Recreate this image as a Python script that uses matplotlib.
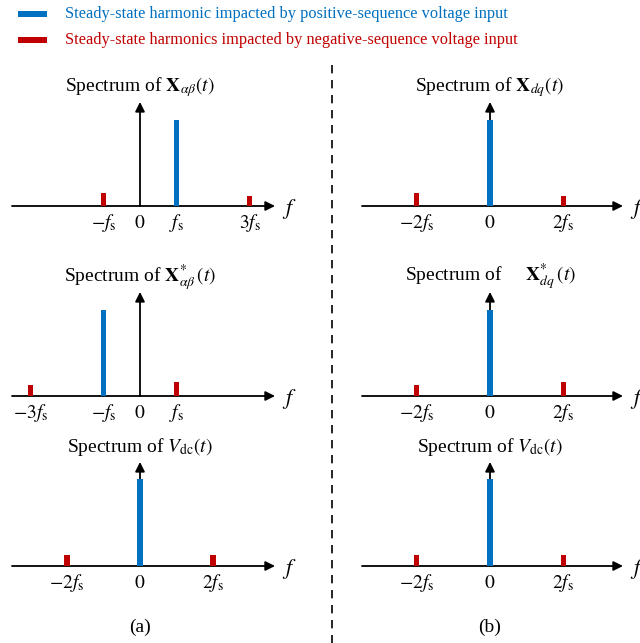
import matplotlib.pyplot as plt
from matplotlib.lines import Line2D
from matplotlib.patches import Rectangle

plt.rcParams['font.family'] = ['Liberation Serif', 'DejaVu Serif']
plt.rcParams['mathtext.fontset'] = 'stix'

BLUE = '#0070C0'
RED = '#C00000'

# spectra (frequency in multiples of fs, amplitude normalised to main harmonic)
a1_pos_f, a1_pos_amp = [1], [1.0]
a1_neg_f, a1_neg_amp = [-1, 3], [0.15, 0.12]
a2_pos_f, a2_pos_amp = [-1], [1.0]
a2_neg_f, a2_neg_amp = [-3, 1], [0.13, 0.16]
a3_pos_f, a3_pos_amp = [0], [1.01]
a3_neg_f, a3_neg_amp = [-2, 2], [0.13, 0.13]

b1_pos_f, b1_pos_amp = [0], [1.0]
b1_neg_f, b1_neg_amp = [-2, 2], [0.15, 0.12]
b2_pos_f, b2_pos_amp = [0], [1.0]
b2_neg_f, b2_neg_amp = [-2, 2], [0.13, 0.16]
b3_pos_f, b3_pos_amp = [0], [1.01]
b3_neg_f, b3_neg_amp = [-2, 2], [0.13, 0.13]

a1_ticks = [-1, 0, 1, 3]
a1_labels = [r'$-f_{\mathrm{s}}$', r'$0$', r'$f_{\mathrm{s}}$', r'$3f_{\mathrm{s}}$']
a2_ticks = [-3, -1, 0, 1]
a2_labels = [r'$-3f_{\mathrm{s}}$', r'$-f_{\mathrm{s}}$', r'$0$', r'$f_{\mathrm{s}}$']
dc_ticks = [-2, 0, 2]
dc_labels = [r'$-2f_{\mathrm{s}}$', r'$0$', r'$2f_{\mathrm{s}}$']

titles_a = [r'Spectrum of $\mathbf{X}_{\alpha\beta}(t)$',
            r'Spectrum of $\mathbf{X}^{*}_{\alpha\beta}\,(t)$',
            r'Spectrum of $V_{\mathrm{dc}}(t)$']
titles_b = [r'Spectrum of $\mathbf{X}_{dq}(t)$',
            r'Spectrum of     $\mathbf{X}^{*}_{dq}\,(t)$',
            r'Spectrum of $V_{\mathrm{dc}}(t)$']

legend_labels = ['Steady-state harmonic impacted by positive-sequence voltage input',
                 'Steady-state harmonics impacted by negative-sequence voltage input']

W, H = 640, 643
fig = plt.figure(figsize=(W / 100, H / 100), dpi=100)

baselines = [206, 396, 566]
PX_Y = 86.0  # pixels per unit amplitude


def make_ax(x0, x1, zero_px, px_unit, base):
    top, bot = base - 130, base + 40
    ax = fig.add_axes([x0 / W, 1 - bot / H, (x1 - x0) / W, (bot - top) / H])
    ax.set_xlim((x0 - zero_px) / px_unit, (x1 - zero_px) / px_unit)
    ax.set_ylim(-40 / PX_Y, 130 / PX_Y)
    ax.axis('off')
    return ax


def draw(ax, pos_f, pos_amp, neg_f, neg_amp, ticks, labels, title, xr):
    ax.annotate('', xy=(xr[1], 0), xytext=(xr[0], 0),
                arrowprops=dict(arrowstyle='-|>', color='black', lw=1.3,
                                mutation_scale=14, shrinkA=0, shrinkB=0))
    ax.annotate('', xy=(0, 1.21), xytext=(0, 0),
                arrowprops=dict(arrowstyle='-|>', color='black', lw=1.3,
                                mutation_scale=14, shrinkA=0, shrinkB=0))
    ax.bar(neg_f, neg_amp, width=0.15, color=RED, zorder=3)
    ax.bar(pos_f, pos_amp, width=0.15, color=BLUE, zorder=3)
    for t, lab in zip(ticks, labels):
        ax.text(t, -0.2, lab, ha='center', va='center', fontsize=14)
    ax.text(xr[1] + 0.4, -0.03, r'$f$', ha='center', va='center', fontsize=16)
    ax.text(0, 1.38, title, ha='center', va='center', fontsize=14)


pos_a = [(a1_pos_f, a1_pos_amp, a1_neg_f, a1_neg_amp, a1_ticks, a1_labels),
         (a2_pos_f, a2_pos_amp, a2_neg_f, a2_neg_amp, a2_ticks, a2_labels),
         (a3_pos_f, a3_pos_amp, a3_neg_f, a3_neg_amp, dc_ticks, dc_labels)]
pos_b = [(b1_pos_f, b1_pos_amp, b1_neg_f, b1_neg_amp, dc_ticks, dc_labels),
         (b2_pos_f, b2_pos_amp, b2_neg_f, b2_neg_amp, dc_ticks, dc_labels),
         (b3_pos_f, b3_pos_amp, b3_neg_f, b3_neg_amp, dc_ticks, dc_labels)]

for i, base in enumerate(baselines):
    ax = make_ax(0, 320, 140, 36.5, base)
    draw(ax, *pos_a[i], titles_a[i], ((12 - 140) / 36.5, (275 - 140) / 36.5))
    ax = make_ax(335, 640, 490, 36.7, base)
    draw(ax, *pos_b[i], titles_b[i], ((362 - 490) / 36.7, (623 - 490) / 36.7))

# panel captions
fig.text(140 / W, 1 - 627 / H, '(a)', ha='center', va='center', fontsize=14)
fig.text(490 / W, 1 - 627 / H, '(b)', ha='center', va='center', fontsize=14)

# dashed separator
fig.add_artist(Line2D([332 / W, 332 / W], [1 - 65 / H, 0], color='black',
                      lw=1.2, ls=(0, (5, 4))))

# legend
for k, (lab, col) in enumerate(zip(legend_labels, [BLUE, RED])):
    y = 14 + 26 * k
    fig.add_artist(Rectangle((18 / W, 1 - (y + 3) / H), 29 / W, 6 / H,
                             facecolor=col, edgecolor='none'))
    fig.text(65 / W, 1 - y / H, lab, color=col, ha='left', va='center',
             fontsize=11.8)

fig.savefig('out.png', dpi=100)
